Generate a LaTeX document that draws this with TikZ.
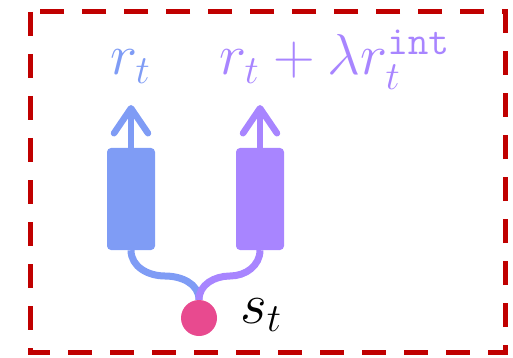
\documentclass[tikz,border=0pt]{standalone}
\usepackage{graphicx}
\usetikzlibrary{arrows.meta}
\definecolor{cblue}{HTML}{7F9CF5}
\definecolor{cpurple}{HTML}{A885FF}
\definecolor{cpink}{HTML}{E84A8F}
\definecolor{cred}{HTML}{C00000}
\newcommand{\hugemath}[1]{\scalebox{2.78}{\huge$#1$}}
\begin{document}
\begin{tikzpicture}[x=1pt,y=-1pt,
  block/.style={rounded corners=4pt,minimum width=48pt,minimum height=102pt,inner sep=0pt,draw=none},
  link/.style={line width=7pt},
  uparrow/.style={line width=6.5pt,-{Straight Barb[length=25pt,width=34pt,round]}},
  lbl/.style={inner sep=0pt,anchor=base west}]
\useasboundingbox (0,0) rectangle (513,358);
\draw[cred,line width=5pt,dash pattern=on 24pt off 18pt] (30,12) rectangle (505,352);
\node[block,fill=cblue] (b1) at (131,199) {};
\node[block,fill=cpurple] (b2) at (260,199) {};
\coordinate (t1) at (131,105);
\coordinate (t2) at (260,105);
\draw[cblue,uparrow] (b1.north) -- (t1);
\draw[cpurple,uparrow] (b2.north) -- (t2);
\node[circle,fill=cpink,minimum size=36pt,inner sep=0pt] (s) at (199,318) {};
\coordinate (m1) at (165,276);
\coordinate (m2) at (230,276);
\draw[cblue,link] (b1.south) to[out=-90,in=180] (m1) to[out=0,in=90] (s.north);
\draw[cpurple,link] (b2.south) to[out=-90,in=0] (m2) to[out=180,in=90] (s.north);
\node[lbl,text=cblue] (l1) at (110,75) {\hugemath{r_t}};
\node[lbl,text=cpurple] (l2) at (219,75) {\hugemath{r_t+\lambda r_t^{\mathtt{int}}}};
\node[lbl,text=black] (l3) at (240,323) {\hugemath{s_t}};
\end{tikzpicture}
\end{document}
